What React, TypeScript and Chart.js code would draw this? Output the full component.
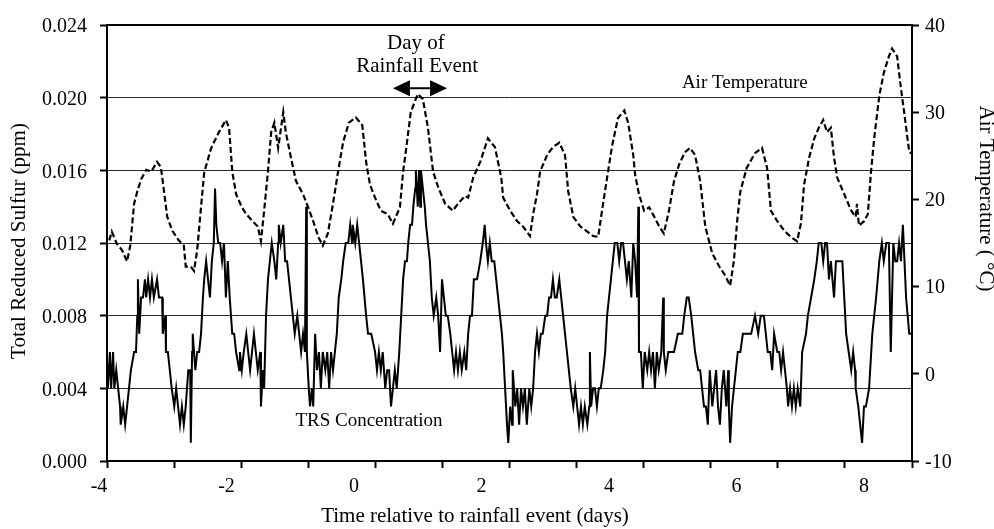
import React, { useEffect, useRef } from 'react';
import { Chart, registerables } from 'chart.js';

Chart.register(...registerables);

const FONT = "'Liberation Serif', 'Times New Roman', Times, serif";

// ---- DATA ----
// TRS concentration: time (days relative to rainfall event) and value (ppb = ppm x 1000)
const trsDays = [
  -3.88, -3.86, -3.83, -3.81, -3.78, -3.76, -3.73, -3.70, -3.67, -3.66, -3.62, -3.59, -3.56, -3.53, -3.50, -3.45,
  -3.42, -3.40, -3.39, -3.37, -3.34, -3.31, -3.28, -3.26, -3.23, -3.20, -3.17, -3.14, -3.09, -3.06, -3.01, -3.00,
  -2.96, -2.95, -2.92, -2.89, -2.86, -2.82, -2.79, -2.76, -2.73, -2.70, -2.67, -2.64, -2.60, -2.57, -2.56, -2.54,
  -2.53, -2.49, -2.46, -2.43, -2.40, -2.37, -2.35, -2.32, -2.29, -2.26, -2.23, -2.20, -2.18, -2.16, -2.13, -2.10,
  -2.07, -2.04, -2.01, -1.98, -1.95, -1.91, -1.88, -1.85, -1.80,
  -1.79, -1.76, -1.73, -1.69, -1.66, -1.63, -1.60, -1.57, -1.54, -1.51, -1.47, -1.46, -1.43, -1.41, -1.38, -1.35,
  -1.32, -1.29, -1.25, -1.22, -1.19, -1.18, -1.15, -1.11, -1.08, -1.05, -1.02, -0.99, -0.96, -0.93, -0.89, -0.86,
  -0.83, -0.80, -0.77, -0.75, -0.74, -0.71, -0.69, -0.66, -0.64, -0.61, -0.58, -0.55, -0.52, -0.49, -0.45, -0.42,
  -0.39, -0.36, -0.33, -0.30, -0.27, -0.24, -0.20, -0.17, -0.13, -0.09, -0.06, -0.03, -0.02, 0.02, 0.05, 0.08,
  0.11, 0.14, 0.19, 0.22, 0.27,
  0.33, 0.36, 0.39, 0.42, 0.45, 0.49, 0.52, 0.55, 0.58, 0.61, 0.64, 0.67, 0.71, 0.74, 0.77, 0.80,
  0.83, 0.85, 0.88, 0.91, 0.93, 0.96, 0.97, 1.00, 1.02, 1.04, 1.05, 1.08, 1.11, 1.13, 1.16, 1.19,
  1.22, 1.25, 1.29, 1.32, 1.35, 1.38, 1.41, 1.44, 1.47, 1.51, 1.54, 1.57, 1.60, 1.63, 1.66, 1.69,
  1.73, 1.76, 1.79, 1.82, 1.85, 1.88, 1.93, 1.98, 2.02, 2.05, 2.07, 2.10, 2.13, 2.16, 2.20, 2.23,
  2.26, 2.29, 2.32,
  2.34, 2.37, 2.40, 2.42, 2.45, 2.48, 2.49, 2.53, 2.56, 2.59, 2.62, 2.65, 2.68, 2.71, 2.75, 2.78,
  2.81, 2.84, 2.87, 2.90, 2.93, 2.96, 3.00, 3.03, 3.06, 3.09, 3.12, 3.15, 3.18, 3.22, 3.25, 3.28,
  3.31, 3.34, 3.37, 3.40, 3.44, 3.47, 3.50, 3.53, 3.56, 3.59, 3.62, 3.66, 3.69, 3.70, 3.72, 3.75,
  3.78, 3.81, 3.84, 3.87, 3.91, 3.94, 3.97, 4.00, 4.03, 4.06, 4.09, 4.13, 4.16, 4.19, 4.22, 4.25,
  4.28, 4.31, 4.35, 4.38, 4.41,
  4.44, 4.46, 4.47, 4.50, 4.53, 4.56, 4.60, 4.63, 4.66, 4.69, 4.72, 4.75, 4.78, 4.82, 4.85, 4.86,
  4.89, 4.93, 4.96, 5.02, 5.08, 5.15, 5.18, 5.22, 5.25, 5.29, 5.32, 5.35, 5.40, 5.43, 5.46, 5.49,
  5.52, 5.55, 5.58, 5.62, 5.65, 5.68, 5.71, 5.74, 5.77, 5.80, 5.84, 5.87, 5.88, 5.90, 5.93, 5.96,
  5.99, 6.02, 6.06, 6.10, 6.16, 6.23, 6.29, 6.34, 6.38, 6.43,
  6.46, 6.49, 6.53, 6.56, 6.59, 6.64, 6.67, 6.70, 6.73, 6.76, 6.79, 6.81, 6.84, 6.87, 6.90, 6.93,
  6.96, 7.00, 7.03, 7.09, 7.12, 7.17, 7.22, 7.26, 7.29, 7.33, 7.36, 7.39, 7.42, 7.45, 7.48, 7.53,
  7.56, 7.61, 7.66, 7.69, 7.72, 7.76, 7.80, 7.83, 7.86, 7.87, 7.91, 7.94, 7.97, 8.00, 8.03, 8.08,
  8.13, 8.19, 8.24, 8.28, 8.31, 8.35, 8.39, 8.42, 8.46, 8.49, 8.52, 8.55, 8.58, 8.61, 8.66, 8.71,
  8.74,
];
const trsPpb = [
  6, 4, 6, 4, 6, 4, 5, 4, 3, 2, 3, 2, 3, 4, 5, 6,
  6, 8, 10, 7, 9, 9, 10, 9, 10, 9, 10, 9, 10, 9, 9, 7,
  8, 6, 6, 5, 4, 3, 4, 3, 2, 3, 2, 3, 5, 5, 1, 6,
  7, 5, 6, 6, 7, 9, 10, 11, 10, 9, 11, 12, 15, 13, 12, 12,
  11, 12, 9, 11, 9, 7, 7, 6, 5,
  6, 5, 6, 7, 6, 5, 6, 7, 6, 5, 6, 3, 5, 4, 8, 10,
  11, 12, 11, 10, 12, 13, 12, 13, 11, 11, 10, 9, 8, 7, 8, 7,
  6, 7, 6, 14, 6, 4, 3, 4, 3, 7, 5, 6, 4, 6, 5, 6,
  4, 6, 5, 6, 7, 9, 10, 11, 12, 12, 13, 12, 13, 12, 13, 12,
  11, 10, 8, 7, 7,
  6, 5, 6, 5, 6, 4, 5, 5, 3, 4, 5, 4, 6, 8, 10, 11,
  11, 12, 13, 13, 14, 15, 16, 14, 16, 14, 16, 15, 14, 13, 12, 11,
  9, 8, 9, 8, 6, 10, 9, 8, 8, 7, 6, 5, 6, 5, 6, 5,
  6, 5, 7, 8, 8, 10, 10, 11, 12, 13, 12, 11, 12, 11, 11, 10,
  9, 8, 7,
  6, 4, 2, 1, 3, 2, 5, 3, 4, 2, 4, 3, 4, 2, 4, 3,
  4, 6, 7, 6, 7, 7, 8, 8, 9, 9, 10, 9, 9, 10, 9, 8,
  7, 6, 5, 4, 3, 4, 3, 2, 3, 2, 3, 2, 3, 6, 3, 4,
  4, 3, 4, 4, 5, 6, 8, 9, 10, 11, 12, 12, 11, 12, 12, 11,
  10, 11, 9, 12, 11,
  9, 14, 6, 6, 4, 6, 5, 6, 5, 6, 4, 6, 5, 6, 9, 6,
  5, 6, 6, 6, 7, 7, 8, 9, 9, 8, 7, 6, 5, 5, 4, 3,
  3, 2, 5, 3, 4, 5, 3, 2, 4, 5, 3, 5, 3, 1, 3, 4,
  5, 6, 6, 7, 7, 7, 8, 7, 8, 8,
  7, 6, 6, 5, 7, 6, 6, 5, 6, 5, 4, 3, 4, 3, 4, 3,
  4, 3, 6, 7, 8, 9, 10, 11, 12, 12, 11, 12, 12, 10, 11, 9,
  11, 11, 11, 9, 7, 6, 5, 6, 5, 4, 3, 2, 1, 3, 3, 4,
  7, 9, 11, 12, 11, 12, 12, 6, 12, 11, 11, 12, 11, 13, 9, 7,
  7,
];

// Air temperature: time (days) and value (deg C)
const tempDays = [
  -3.84, -3.80, -3.72, -3.64, -3.56, -3.51, -3.45, -3.40, -3.34, -3.26, -3.18, -3.09, -3.03, -2.98, -2.93, -2.85,
  -2.75, -2.67, -2.64, -2.56, -2.51, -2.46, -2.40, -2.35, -2.24, -2.12, -2.01, -1.96, -1.91, -1.85, -1.76, -1.69,
  -1.58, -1.51, -1.46, -1.41, -1.35, -1.30, -1.25, -1.19, -1.11, -1.07, -0.99, -0.91, -0.80, -0.72, -0.64, -0.56,
  -0.49, -0.41, -0.33, -0.25, -0.17, -0.08, 0.03, 0.13, 0.19, 0.25, 0.33, 0.42, 0.53, 0.61, 0.72, 0.77,
  0.82, 0.89, 1.00, 1.08, 1.16, 1.24, 1.32, 1.43, 1.55, 1.63, 1.74, 1.79, 1.87, 1.98, 2.10, 2.21,
  2.31, 2.34, 2.45, 2.56, 2.65, 2.76, 2.81, 2.87, 2.92, 3.03, 3.12, 3.22, 3.31, 3.36, 3.44, 3.55,
  3.66, 3.75, 3.83, 3.89, 3.97, 4.05, 4.14, 4.24, 4.30, 4.38, 4.41, 4.47, 4.55, 4.63, 4.71, 4.78,
  4.86, 4.94, 5.02, 5.10, 5.19, 5.27, 5.35, 5.43, 5.51, 5.62, 5.73, 5.82, 5.90, 5.96, 6.01, 6.06,
  6.16, 6.29, 6.40, 6.48, 6.54, 6.64, 6.75, 6.85, 6.95, 7.01, 7.06, 7.14, 7.22, 7.29, 7.36, 7.42,
  7.48, 7.53, 7.58, 7.69, 7.80, 7.87, 7.89, 7.92, 8.00, 8.06, 8.11, 8.16, 8.24, 8.31, 8.39, 8.44,
  8.52, 8.58, 8.63, 8.71, 8.74,
];
const tempC = [
  15.3, 16.3, 14.9, 14.2, 12.9, 14.7, 19.5, 20.9, 22.3, 23.4, 23.2, 24.3, 23.7, 20.9, 18.0, 16.4,
  15.3, 14.7, 12.3, 12.3, 11.8, 14.2, 19.1, 23.1, 25.9, 27.7, 29.1, 28.2, 23.2, 20.6, 19.1, 18.3,
  17.4, 16.9, 15.2, 18.7, 23.2, 27.7, 28.8, 25.9, 30.0, 27.7, 24.8, 22.1, 20.6, 19.1, 17.5, 15.7,
  14.7, 16.1, 19.5, 23.2, 26.6, 28.8, 29.4, 28.5, 24.3, 21.7, 20.2, 18.7, 18.3, 17.2, 19.1, 23.2,
  25.9, 30.0, 32.1, 31.5, 28.2, 23.2, 21.4, 19.5, 18.7, 19.5, 20.4, 20.2, 22.5, 24.3, 27.0, 26.0,
  22.5, 20.2, 18.7, 17.5, 16.9, 15.8, 18.3, 20.6, 23.2, 25.1, 26.0, 26.5, 25.1, 20.9, 18.0, 16.9,
  16.3, 15.8, 15.7, 18.7, 22.5, 26.2, 29.3, 30.2, 28.8, 25.1, 22.8, 20.6, 18.7, 19.1, 18.0, 17.0,
  16.1, 18.7, 22.1, 24.0, 25.4, 25.9, 25.1, 22.1, 16.9, 13.8, 12.3, 11.3, 10.1, 13.0, 17.5, 20.9,
  23.6, 25.3, 25.9, 23.6, 18.7, 17.5, 16.4, 15.7, 15.2, 17.2, 21.7, 24.8, 27.0, 28.2, 29.1, 27.7,
  28.2, 24.8, 22.5, 20.6, 18.7, 18.0, 19.5, 17.0, 17.5, 18.3, 23.2, 27.0, 31.9, 34.5, 36.4, 37.3,
  36.4, 32.7, 30.0, 25.4, 25.3,
];

// Axis tick labels
const xTickLabels = [-4, -2, 0, 2, 4, 6, 8];
const trsAxis = { min: 0, max: 0.024, step: 0.004 };
const tempAxis = { min: -10, max: 40, step: 10 };

// Text annotations (x in days, y in ppm on the left axis, at text baseline)
const annotations = [
  { text: 'Day of', x: 0.97, y: 0.02267, size: 21 },
  { text: 'Rainfall Event', x: 0.99, y: 0.0214, size: 21 },
  { text: 'Air Temperature', x: 6.13, y: 0.02055, size: 19 },
  { text: 'TRS Concentration', x: 0.235, y: 0.00192, size: 19 },
];
const rainArrow = { from: 0.61, to: 1.46, y: 0.02052 };

// ---- LAYOUT ----
const W = 994;
const H = 529;
const X_MIN = -3.875;
const X_MAX = 8.753;
const X_MARK_INTERVALS = 12;

const titlesPlugin = {
  id: 'axisTitles',
  afterDraw(chart: any) {
    const { ctx } = chart;
    ctx.save();
    ctx.fillStyle = '#000';
    ctx.font = `21px ${FONT}`;
    ctx.textAlign = 'center';
    ctx.textBaseline = 'alphabetic';
    // left
    ctx.save();
    ctx.translate(25, 241);
    ctx.rotate(-Math.PI / 2);
    ctx.fillText('Total Reduced Sulfur (ppm)', 0, 0);
    ctx.restore();
    // right
    ctx.save();
    ctx.translate(979.5, 198.5);
    ctx.rotate(Math.PI / 2);
    ctx.fillText('Air Temperature ( \u00B0C)', 0, 0);
    ctx.restore();
    // bottom
    ctx.fillText('Time relative to rainfall event (days)', 475, 521.5);
    ctx.restore();
  },
};

const framePlugin = {
  id: 'frame',
  afterDraw(chart: any) {
    const { ctx, chartArea } = chart;
    const { left, top, right, bottom } = chartArea;
    ctx.save();
    ctx.strokeStyle = '#000';
    ctx.lineWidth = 2;
    ctx.strokeRect(left, top, right - left, bottom - top);
    ctx.restore();
  },
};

const annotationPlugin = {
  id: 'notes',
  afterDatasetsDraw(chart: any) {
    const { ctx, scales } = chart;
    const xs = scales.x;
    const ys = scales.y;
    ctx.save();
    ctx.fillStyle = '#000';
    ctx.textAlign = 'center';
    ctx.textBaseline = 'alphabetic';
    for (const a of annotations) {
      ctx.font = `${a.size}px ${FONT}`;
      ctx.fillText(a.text, xs.getPixelForValue(a.x), ys.getPixelForValue(a.y));
    }
    const x1 = xs.getPixelForValue(rainArrow.from);
    const x2 = xs.getPixelForValue(rainArrow.to);
    const y = ys.getPixelForValue(rainArrow.y);
    const head = 17;
    const half = 8;
    ctx.strokeStyle = '#000';
    ctx.lineWidth = 2;
    ctx.beginPath();
    ctx.moveTo(x1 + head - 1, y);
    ctx.lineTo(x2 - head + 1, y);
    ctx.stroke();
    ctx.beginPath();
    ctx.moveTo(x1, y);
    ctx.lineTo(x1 + head, y - half);
    ctx.lineTo(x1 + head, y + half);
    ctx.closePath();
    ctx.fill();
    ctx.beginPath();
    ctx.moveTo(x2, y);
    ctx.lineTo(x2 - head, y - half);
    ctx.lineTo(x2 - head, y + half);
    ctx.closePath();
    ctx.fill();
    ctx.restore();
  },
};

export default function App() {
  const ref = useRef<HTMLCanvasElement>(null);

  useEffect(() => {
    if (!ref.current) return;
    const trsData = trsDays.map((d, i) => ({ x: d, y: trsPpb[i] / 1000 }));
    const tempData = tempDays.map((d, i) => ({ x: d, y: tempC[i] }));
    const labelTicks = xTickLabels.map((v) => ({ value: v, mark: false }));
    const markTicks = Array.from({ length: X_MARK_INTERVALS + 1 }, (_, i) => ({
      value: X_MIN + (i * (X_MAX - X_MIN)) / X_MARK_INTERVALS,
      mark: true,
    }));
    const tickFont = { family: FONT, size: 20 };

    const chart = new Chart(ref.current, {
      type: 'line',
      data: {
        datasets: [
          {
            label: 'Air Temperature',
            data: tempData,
            xAxisID: 'x',
            yAxisID: 'y2',
            borderColor: '#000',
            borderWidth: 2.2,
            borderDash: [6, 3],
            pointRadius: 0,
            tension: 0,
            fill: false,
          },
          {
            label: 'TRS Concentration',
            data: trsData,
            xAxisID: 'x',
            yAxisID: 'y',
            borderColor: '#000',
            borderWidth: 2,
            pointRadius: 0,
            tension: 0,
            fill: false,
          },
        ],
      },
      options: {
        responsive: false,
        animation: false,
        devicePixelRatio: 1,
        layout: { padding: { top: 18, left: 0, right: 0, bottom: 0 } },
        plugins: { legend: { display: false }, tooltip: { enabled: false } },
        scales: {
          x: {
            type: 'linear',
            position: 'bottom',
            min: X_MIN,
            max: X_MAX,
            bounds: 'data',
            afterBuildTicks: (s: any) => {
              s.ticks = [...labelTicks, ...markTicks].sort((a, b) => a.value - b.value);
            },
            afterFit: (s: any) => {
              s.height = H - 461;
            },
            grid: {
              drawOnChartArea: false,
              drawTicks: true,
              tickLength: 7,
              tickWidth: 2,
              tickColor: (c: any) => (c.tick && c.tick.mark ? '#000' : 'rgba(0,0,0,0)'),
            },
            border: { display: false },
            ticks: {
              autoSkip: false,
              maxRotation: 0,
              minRotation: 0,
              padding: 7,
              color: '#000',
              font: tickFont,
              callback: (v: any, i: number, ticks: any[]) => (ticks[i].mark ? '' : String(v)),
            },
          },
          y: {
            type: 'linear',
            position: 'left',
            min: trsAxis.min,
            max: trsAxis.max,
            afterFit: (s: any) => {
              s.width = 107;
            },
            grid: {
              color: '#2a2a2a',
              lineWidth: 1,
              drawTicks: true,
              tickLength: 7,
              tickWidth: 2,
              tickColor: '#000',
            },
            border: { display: false },
            ticks: {
              stepSize: trsAxis.step,
              padding: 13,
              labelOffset: 2,
              color: '#000',
              font: tickFont,
              callback: (v: any) => Number(v).toFixed(3),
            },
          },
          y2: {
            type: 'linear',
            position: 'right',
            min: tempAxis.min,
            max: tempAxis.max,
            afterFit: (s: any) => {
              s.width = W - 912;
            },
            grid: {
              drawOnChartArea: false,
              drawTicks: true,
              tickLength: 7,
              tickWidth: 2,
              tickColor: '#000',
            },
            border: { display: false },
            ticks: {
              stepSize: tempAxis.step,
              padding: 6,
              labelOffset: 1.5,
              color: '#000',
              font: tickFont,
              callback: (v: any) => String(v),
            },
          },
        },
      } as any,
      plugins: [annotationPlugin, framePlugin, titlesPlugin],
    });
    return () => chart.destroy();
  }, []);

  return (
    <div style={{ position: 'absolute', left: 0, top: 0, width: W, height: H, background: '#fff' }}>
      <canvas ref={ref} width={W} height={H} style={{ width: W, height: H, display: 'block' }} />
    </div>
  );
}
